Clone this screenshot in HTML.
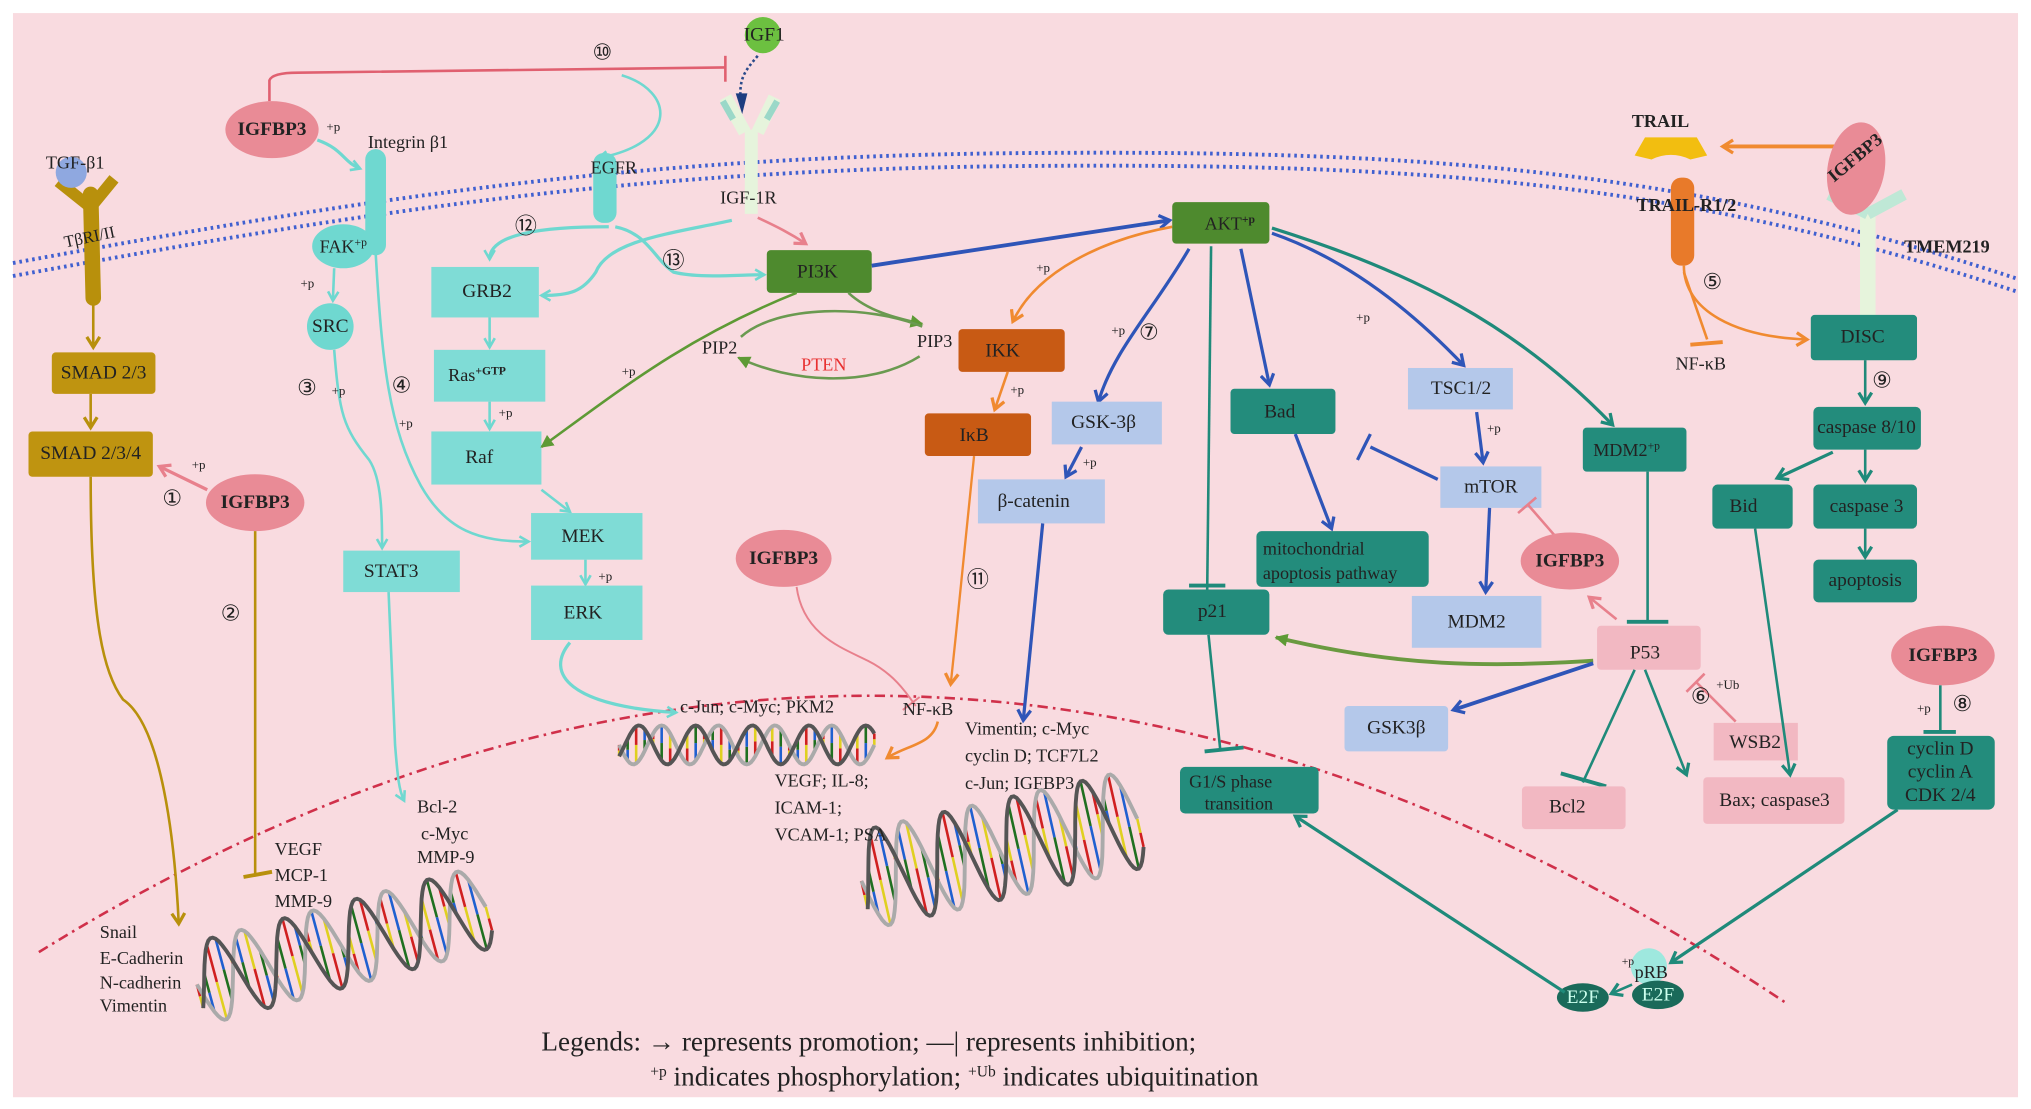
<!DOCTYPE html>
<html><head><meta charset="utf-8"><style>
html,body{margin:0;padding:0;background:#fff}
svg{display:block}
text{font-family:"Liberation Serif",serif;fill:#222}
.b{font-size:15px;text-anchor:middle;dominant-baseline:central}
</style></head><body>
<svg id="s" width="2031" height="1109" viewBox="0 0 1568 856" xmlns="http://www.w3.org/2000/svg">
<defs>
<marker id="aC" markerWidth="10" markerHeight="10" refX="8" refY="5" orient="auto" markerUnits="userSpaceOnUse"><path d="M1,1 L8,5 L1,9" fill="none" stroke="#6fd8d0" stroke-width="2"/></marker>
<marker id="aB" markerWidth="12" markerHeight="12" refX="9" refY="6" orient="auto" markerUnits="userSpaceOnUse"><path d="M1,1 L9,6 L1,11" fill="none" stroke="#2f55b8" stroke-width="2.5"/></marker>
<marker id="aT" markerWidth="12" markerHeight="12" refX="9" refY="6" orient="auto" markerUnits="userSpaceOnUse"><path d="M1,1 L9,6 L1,11" fill="none" stroke="#1f8a7a" stroke-width="2.5"/></marker>
<marker id="aG" markerWidth="12" markerHeight="12" refX="9" refY="6" orient="auto" markerUnits="userSpaceOnUse"><path d="M0,1 L10,6 L0,11 Z" fill="#5e9a35"/></marker>
<marker id="aO" markerWidth="12" markerHeight="12" refX="9" refY="6" orient="auto" markerUnits="userSpaceOnUse"><path d="M1,1 L9,6 L1,11" fill="none" stroke="#f08a30" stroke-width="2.5"/></marker>
<marker id="aP" markerWidth="12" markerHeight="12" refX="9" refY="6" orient="auto" markerUnits="userSpaceOnUse"><path d="M1,1 L9,6 L1,11" fill="none" stroke="#e8808c" stroke-width="2.5"/></marker>
<marker id="aY" markerWidth="12" markerHeight="12" refX="9" refY="6" orient="auto" markerUnits="userSpaceOnUse"><path d="M1,1 L9,6 L1,11" fill="none" stroke="#b8900c" stroke-width="2.5"/></marker>
</defs>
<rect x="10" y="10" width="1548" height="837" fill="#f9dbe0"/>
<!-- membrane -->
<g fill="none" stroke="#4060d0" stroke-width="3" stroke-dasharray="2 3">
<path d="M10,203 C300,150 500,120 800,118 C1100,116 1300,130 1557,215"/>
<path d="M10,213 C300,160 500,130 800,128 C1100,126 1300,140 1557,225"/>
</g>
<!-- nucleus -->
<path d="M30,735 Q700,320 1380,775" fill="none" stroke="#d0304a" stroke-width="2" stroke-dasharray="8 4 2 4"/>
<g id="dna"></g>

<!-- left TGF -->
<path d="M70,150 L72,230" stroke="#b8900c" stroke-width="12" stroke-linecap="round"/>
<path d="M70,160 L45,140 M70,160 L88,138" stroke="#b8900c" stroke-width="9"/>
<circle cx="55" cy="133" r="12" fill="#8fa8e0"/>
<text x="58" y="130" font-size="14" text-anchor="middle">TGF-β1</text>
<text x="70" y="187" font-size="13" text-anchor="middle" transform="rotate(-12 70 187)">TβRI/II</text>
<line x1="72" y1="232" x2="72" y2="268" stroke="#b8900c" stroke-width="2" marker-end="url(#aY)"/>
<rect x="40" y="272" width="80" height="32" rx="3" fill="#bf9410"/><text class="b" x="80" y="288">SMAD 2/3</text>
<line x1="70" y1="304" x2="70" y2="330" stroke="#b8900c" stroke-width="2" marker-end="url(#aY)"/>
<rect x="22" y="333" width="96" height="35" rx="3" fill="#bf9410"/><text class="b" x="70" y="350">SMAD 2/3/4</text>
<path d="M70,368 C70,480 80,520 95,540 C125,560 135,650 138,713" fill="none" stroke="#b8900c" stroke-width="2" marker-end="url(#aY)"/>
<line x1="160" y1="378" x2="123" y2="360" stroke="#e8808c" stroke-width="2.5" marker-end="url(#aP)"/>
<text x="148" y="362" font-size="10">+p</text>
<text x="133" y="390" font-size="17" text-anchor="middle">①</text>
<ellipse cx="197" cy="388" rx="38" ry="22" fill="#e98b96"/><text class="b" x="197" y="388" font-weight="bold">IGFBP3</text>
<path d="M197,410 L197,675" stroke="#b8900c" stroke-width="2"/><path d="M188,677 L210,673" stroke="#b8900c" stroke-width="3"/>
<text x="178" y="479" font-size="17" text-anchor="middle">②</text>
<g font-size="14"><text x="77" y="724">Snail</text><text x="77" y="744">E-Cadherin</text><text x="77" y="763">N-cadherin</text><text x="77" y="781">Vimentin</text>
<text x="212" y="660">VEGF</text><text x="212" y="680">MCP-1</text><text x="212" y="700">MMP-9</text>
<text x="322" y="627">Bcl-2</text><text x="325" y="648">c-Myc</text><text x="322" y="666">MMP-9</text></g>

<!-- IGFBP3 top & integrin -->
<path d="M208,78 L208,62 Q210,56 230,56 L560,52" fill="none" stroke="#e06070" stroke-width="2"/>
<path d="M560,43 L560,63" stroke="#e06070" stroke-width="2"/>
<text x="465" y="46" font-size="17" text-anchor="middle">⑩</text>
<ellipse cx="210" cy="100" rx="36" ry="22" fill="#e98b96"/><text class="b" x="210" y="100" font-weight="bold">IGFBP3</text>
<text x="252" y="101" font-size="10">+p</text>
<path d="M245,108 C265,115 265,125 278,130" fill="none" stroke="#6fd8d0" stroke-width="2.5" marker-end="url(#aC)"/>
<rect x="282" y="115" width="16" height="82" rx="8" fill="#6fd8d0"/>
<text x="284" y="114" font-size="14">Integrin β1</text>
<ellipse cx="265" cy="190" rx="24" ry="17" fill="#6fd8d0"/><text x="265" y="195" font-size="14" text-anchor="middle">FAK<tspan font-size="9" dy="-5">+p</tspan></text>
<line x1="258" y1="207" x2="257" y2="232" stroke="#6fd8d0" stroke-width="2" marker-end="url(#aC)"/>
<text x="232" y="222" font-size="10">+p</text>
<circle cx="255" cy="252" r="18" fill="#6fd8d0"/><text class="b" x="255" y="252">SRC</text>
<path d="M258,270 C262,320 265,330 285,355 C295,370 295,400 295,423" fill="none" stroke="#6fd8d0" stroke-width="2" marker-end="url(#aC)"/>
<path d="M290,195 C295,280 300,330 325,375 C345,410 370,418 408,418" fill="none" stroke="#6fd8d0" stroke-width="2" marker-end="url(#aC)"/>
<text x="237" y="305" font-size="17" text-anchor="middle">③</text><text x="256" y="305" font-size="10">+p</text>
<text x="310" y="303" font-size="17" text-anchor="middle">④</text><text x="308" y="330" font-size="10">+p</text>
<rect x="265" y="425" width="90" height="32" fill="#7fdcd6"/><text class="b" x="302" y="441">STAT3</text>
<path d="M300,457 L305,575 C307,600 308,610 312,618" fill="none" stroke="#6fd8d0" stroke-width="2" marker-end="url(#aC)"/>

<!-- EGFR / IGF -->
<path d="M480,58 C520,70 525,110 462,122" fill="none" stroke="#6fd8d0" stroke-width="2" marker-end="url(#aC)"/>
<rect x="458" y="118" width="18" height="54" rx="8" fill="#6fd8d0"/>
<text x="456" y="134" font-size="14">EGFR</text>
<circle cx="589" cy="27" r="14" fill="#6cc040"/><text class="b" x="590" y="27" font-size="14">IGF1</text>
<path d="M585,43 C575,55 570,60 572,80" fill="none" stroke="#2a4a8a" stroke-width="2" stroke-dasharray="2 2"/>
<path d="M568,72 L573,88 L577,72 Z" fill="#1d3d80"/>
<path d="M575,100 L575,165 L585,165 L585,100 Z" fill="#e6f4dc"/>
<path d="M575,102 L560,75 M585,102 L598,75" stroke="#e6f4dc" stroke-width="10"/>
<path d="M558,78 L566,92 M600,78 L592,92" stroke="#9ad8c8" stroke-width="5"/>
<text x="556" y="157" font-size="14">IGF-1R</text>
<path d="M470,175 C420,175 378,180 378,200" fill="none" stroke="#6fd8d0" stroke-width="2.5" marker-end="url(#aC)"/>
<path d="M565,170 C520,180 470,185 460,210 C450,225 440,228 418,228" fill="none" stroke="#6fd8d0" stroke-width="2.5" marker-end="url(#aC)"/>
<path d="M475,175 C500,180 505,200 520,210 C540,215 570,212 590,212" fill="none" stroke="#6fd8d0" stroke-width="2.5" marker-end="url(#aC)"/>
<path d="M585,168 C600,175 610,180 622,188" fill="none" stroke="#e8808c" stroke-width="2" marker-end="url(#aP)"/>
<text x="406" y="180" font-size="17" text-anchor="middle">⑫</text>
<text x="520" y="207" font-size="17" text-anchor="middle">⑬</text>
<rect x="333" y="206" width="83" height="39" fill="#7fdcd6"/><text class="b" x="376" y="225">GRB2</text>
<line x1="378" y1="245" x2="378" y2="268" stroke="#6fd8d0" stroke-width="2" marker-end="url(#aC)"/>
<rect x="335" y="270" width="86" height="40" fill="#7fdcd6"/><text x="346" y="294" font-size="14">Ras<tspan font-size="9" dy="-5" font-weight="bold">+GTP</tspan></text>
<line x1="378" y1="310" x2="378" y2="331" stroke="#6fd8d0" stroke-width="2" marker-end="url(#aC)"/>
<text x="385" y="322" font-size="10">+p</text>
<rect x="333" y="333" width="85" height="41" fill="#7fdcd6"/><text class="b" x="370" y="353">Raf</text>
<line x1="418" y1="378" x2="440" y2="395" stroke="#6fd8d0" stroke-width="2" marker-end="url(#aC)"/>
<rect x="410" y="396" width="86" height="36" fill="#7fdcd6"/><text class="b" x="450" y="414">MEK</text>
<line x1="452" y1="432" x2="452" y2="451" stroke="#6fd8d0" stroke-width="2" marker-end="url(#aC)"/>
<text x="462" y="448" font-size="10">+p</text>
<rect x="410" y="452" width="86" height="42" fill="#7fdcd6"/><text class="b" x="450" y="473">ERK</text>
<path d="M440,496 C420,520 440,545 522,550" fill="none" stroke="#6fd8d0" stroke-width="2.5" marker-end="url(#aC)"/>
<text x="525" y="550" font-size="14">c-Jun; c-Myc; PKM2</text>

<!-- PI3K / PTEN -->
<rect x="592" y="193" width="81" height="33" rx="3" fill="#4e8a2e"/><text class="b" x="631" y="210">PI3K</text>
<line x1="673" y1="205" x2="903" y2="170" stroke="#2f55b8" stroke-width="3" marker-end="url(#aB)"/>
<path d="M615,226 C530,260 480,300 418,345" fill="none" stroke="#5e9a35" stroke-width="2" marker-end="url(#aG)"/>
<text x="480" y="290" font-size="10">+p</text>
<path d="M655,226 C670,240 690,245 712,250" fill="none" stroke="#6a9a50" stroke-width="2" marker-end="url(#aG)"/>
<path d="M572,260 C600,235 670,235 712,252" fill="none" stroke="#6a9a50" stroke-width="2"/>
<path d="M710,275 C670,300 610,295 570,276" fill="none" stroke="#6a9a50" stroke-width="2" marker-end="url(#aG)"/>
<text x="542" y="273" font-size="14">PIP2</text><text x="708" y="268" font-size="14">PIP3</text>
<text x="636" y="286" font-size="14" text-anchor="middle" style="fill:#e83030">PTEN</text>
<path d="M905,175 C850,185 800,210 782,248" fill="none" stroke="#f08a30" stroke-width="2" marker-end="url(#aO)"/>
<text x="800" y="210" font-size="10">+p</text>
<rect x="740" y="254" width="82" height="33" rx="3" fill="#c85a14"/><text class="b" x="774" y="271">IKK</text>
<line x1="778" y1="287" x2="768" y2="316" stroke="#f08a30" stroke-width="2" marker-end="url(#aO)"/>
<text x="780" y="304" font-size="10">+p</text>
<rect x="714" y="319" width="82" height="33" rx="3" fill="#c85a14"/><text class="b" x="752" y="336">IκB</text>
<path d="M752,352 L738,490 L734,528" fill="none" stroke="#f08a30" stroke-width="1.8" marker-end="url(#aO)"/>
<text x="755" y="453" font-size="17" text-anchor="middle">⑪</text>
<ellipse cx="605" cy="431" rx="37" ry="22" fill="#e98b96"/><text class="b" x="605" y="431" font-weight="bold">IGFBP3</text>
<path d="M615,453 C620,490 650,500 670,510 C690,520 700,535 707,545" fill="none" stroke="#e8808c" stroke-width="1.5"/>
<path d="M697,548 L710,538" stroke="#e8808c" stroke-width="1.5"/>
<text x="697" y="552" font-size="14">NF-κB</text>
<path d="M724,557 C720,575 700,575 685,585" fill="none" stroke="#f08a30" stroke-width="2" marker-end="url(#aO)"/>
<g font-size="14"><text x="598" y="607">VEGF; IL-8;</text><text x="598" y="628">ICAM-1;</text><text x="598" y="649">VCAM-1; PSA</text>
<text x="745" y="567">Vimentin; c-Myc</text><text x="745" y="588">cyclin D; TCF7L2</text><text x="745" y="609">c-Jun; IGFBP3</text></g>

<!-- AKT -->
<rect x="905" y="156" width="75" height="32" rx="3" fill="#4e8a2e"/><text x="930" y="177" font-size="14">AKT<tspan font-size="9" dy="-5" font-weight="bold">+p</tspan></text>
<path d="M918,192 C890,240 860,270 848,310" fill="none" stroke="#2f55b8" stroke-width="2.5" marker-end="url(#aB)"/>
<text x="858" y="258" font-size="10">+p</text><text x="887" y="262" font-size="17" text-anchor="middle">⑦</text>
<rect x="812" y="310" width="85" height="33" fill="#b4c8ea"/><text class="b" x="852" y="326">GSK-3β</text>
<line x1="835" y1="345" x2="823" y2="368" stroke="#2f55b8" stroke-width="2.5" marker-end="url(#aB)"/>
<text x="836" y="360" font-size="10">+p</text>
<rect x="755" y="370" width="98" height="34" fill="#b4c8ea"/><text class="b" x="798" y="387">β-catenin</text>
<line x1="805" y1="404" x2="790" y2="556" stroke="#2f55b8" stroke-width="2.5" marker-end="url(#aB)"/>
<path d="M935,190 L932,455" stroke="#1f8a7a" stroke-width="2"/><path d="M918,452 L946,452" stroke="#1f8a7a" stroke-width="3"/>
<line x1="958" y1="192" x2="980" y2="297" stroke="#2f55b8" stroke-width="2.5" marker-end="url(#aB)"/>
<rect x="950" y="300" width="81" height="35" rx="3" fill="#238c7c"/><text class="b" x="988" y="318">Bad</text>
<line x1="1000" y1="335" x2="1028" y2="408" stroke="#2f55b8" stroke-width="2.5" marker-end="url(#aB)"/>
<rect x="970" y="410" width="133" height="43" rx="4" fill="#238c7c"/><text x="975" y="428" font-size="14">mitochondrial</text><text x="975" y="447" font-size="14">apoptosis pathway</text>
<path d="M982,180 C1040,200 1090,240 1130,282" fill="none" stroke="#2f55b8" stroke-width="2.5" marker-end="url(#aB)"/>
<text x="1047" y="248" font-size="10">+p</text>
<rect x="1087" y="284" width="81" height="32" fill="#b4c8ea"/><text class="b" x="1128" y="300">TSC1/2</text>
<line x1="1140" y1="318" x2="1145" y2="357" stroke="#2f55b8" stroke-width="2.5" marker-end="url(#aB)"/>
<text x="1148" y="334" font-size="10">+p</text>
<rect x="1112" y="360" width="78" height="32" fill="#b4c8ea"/><text class="b" x="1151" y="376">mTOR</text>
<path d="M1110,370 L1058,345" stroke="#2f55b8" stroke-width="2.5"/><path d="M1048,355 L1058,335" stroke="#2f55b8" stroke-width="2.5"/>
<line x1="1150" y1="392" x2="1147" y2="457" stroke="#2f55b8" stroke-width="2.5" marker-end="url(#aB)"/>
<rect x="1090" y="460" width="100" height="40" fill="#b4c8ea"/><text class="b" x="1140" y="480">MDM2</text>
<path d="M1200,413 L1180,390" stroke="#e8808c" stroke-width="2"/><path d="M1172,396 L1186,384" stroke="#e8808c" stroke-width="2"/>
<ellipse cx="1212" cy="433" rx="38" ry="22" fill="#e98b96"/><text class="b" x="1212" y="433" font-weight="bold">IGFBP3</text>
<path d="M982,176 C1090,210 1170,250 1245,328" fill="none" stroke="#1f8a7a" stroke-width="2.5" marker-end="url(#aT)"/>
<rect x="1222" y="330" width="80" height="34" rx="3" fill="#238c7c"/><text x="1230" y="352" font-size="14">MDM2<tspan font-size="9" dy="-5">+p</tspan></text>
<path d="M1272,364 L1272,480" stroke="#1f8a7a" stroke-width="2"/><path d="M1256,480 L1288,480" stroke="#1f8a7a" stroke-width="3"/>
<rect x="898" y="455" width="82" height="35" rx="4" fill="#238c7c"/><text class="b" x="936" y="472">p21</text>
<path d="M933,490 L942,578" stroke="#1f8a7a" stroke-width="2"/><path d="M930,580 L960,577" stroke="#1f8a7a" stroke-width="3"/>
<rect x="911" y="592" width="107" height="36" rx="4" fill="#238c7c"/><text x="918" y="608" font-size="14">G1/S phase</text><text x="930" y="625" font-size="14">transition</text>
<rect x="1233" y="483" width="80" height="34" rx="3" fill="#f2b8c2"/><text class="b" x="1270" y="504">P53</text>
<path d="M1248,478 L1227,461" stroke="#e8808c" stroke-width="2" marker-end="url(#aP)"/>
<path d="M1230,510 C1150,515 1080,515 985,492" fill="none" stroke="#6a9a40" stroke-width="3" marker-end="url(#aG)"/>
<line x1="1230" y1="512" x2="1122" y2="548" stroke="#2f55b8" stroke-width="3" marker-end="url(#aB)"/>
<rect x="1038" y="545" width="80" height="35" rx="3" fill="#b4c8ea"/><text class="b" x="1078" y="562">GSK3β</text>
<path d="M1262,517 L1222,604" stroke="#1f8a7a" stroke-width="2"/><path d="M1205,597 L1240,607" stroke="#1f8a7a" stroke-width="3"/>
<rect x="1175" y="607" width="80" height="33" rx="3" fill="#f2b8c2"/><text class="b" x="1210" y="623">Bcl2</text>
<path d="M1270,517 L1302,598" stroke="#1f8a7a" stroke-width="2" marker-end="url(#aT)"/>
<rect x="1315" y="600" width="109" height="36" rx="3" fill="#f2b8c2"/><text class="b" x="1370" y="618">Bax; caspase3</text>
<rect x="1323" y="558" width="65" height="29" fill="#f2b8c2"/><text class="b" x="1355" y="573">WSB2</text>
<path d="M1340,557 L1310,527" stroke="#e8808c" stroke-width="2"/><path d="M1302,534 L1316,520" stroke="#e8808c" stroke-width="2"/>
<text x="1313" y="543" font-size="17" text-anchor="middle">⑥</text><text x="1325" y="532" font-size="10">+Ub</text>

<!-- right TRAIL -->
<text x="1282" y="98" font-size="14" font-weight="bold" text-anchor="middle">TRAIL</text>
<path d="M1270,106 L1310,106 L1318,120 L1305,123 Q1290,116 1275,123 L1262,120 Z" fill="#f2be10"/>
<path d="M1420,113 L1330,113" stroke="#f08a30" stroke-width="3" marker-end="url(#aO)"/>
<rect x="1290" y="137" width="18" height="68" rx="8" fill="#e87a2a"/>
<text x="1302" y="163" font-size="14" font-weight="bold" text-anchor="middle">TRAIL-R1/2</text>
<path d="M1300,205 C1300,240 1340,260 1395,262" fill="none" stroke="#f08a30" stroke-width="2" marker-end="url(#aO)"/>
<path d="M1300,210 L1318,262" stroke="#f08a30" stroke-width="2"/><path d="M1305,266 L1330,264" stroke="#f08a30" stroke-width="3"/>
<text x="1322" y="223" font-size="17" text-anchor="middle">⑤</text>
<text x="1313" y="285" font-size="14" text-anchor="middle">NF-κB</text>
<rect x="1436" y="160" width="12" height="85" fill="#e6f4dc"/>
<path d="M1442,165 L1412,150 M1442,165 L1470,150" stroke="#bfe8d6" stroke-width="9"/>
<ellipse cx="1433" cy="130" rx="22" ry="36" fill="#e98b96" transform="rotate(10 1433 130)"/>
<text x="1435" y="125" font-size="14" font-weight="bold" text-anchor="middle" transform="rotate(-40 1435 125)">IGFBP3</text>
<text x="1470" y="195" font-size="14" font-weight="bold">TMEM219</text>
<rect x="1398" y="243" width="82" height="35" rx="3" fill="#238c7c"/><text class="b" x="1438" y="260">DISC</text>
<line x1="1440" y1="278" x2="1440" y2="311" stroke="#1f8a7a" stroke-width="2" marker-end="url(#aT)"/>
<text x="1453" y="299" font-size="17" text-anchor="middle">⑨</text>
<rect x="1400" y="314" width="83" height="33" rx="4" fill="#238c7c"/><text class="b" x="1441" y="330" font-size="14">caspase 8/10</text>
<line x1="1415" y1="349" x2="1372" y2="369" stroke="#1f8a7a" stroke-width="2.5" marker-end="url(#aT)"/>
<line x1="1440" y1="347" x2="1440" y2="371" stroke="#1f8a7a" stroke-width="2" marker-end="url(#aT)"/>
<rect x="1322" y="374" width="62" height="34" rx="4" fill="#238c7c"/><text class="b" x="1346" y="391">Bid</text>
<rect x="1400" y="374" width="80" height="34" rx="4" fill="#238c7c"/><text class="b" x="1441" y="391">caspase 3</text>
<line x1="1440" y1="408" x2="1440" y2="430" stroke="#1f8a7a" stroke-width="2" marker-end="url(#aT)"/>
<rect x="1400" y="432" width="80" height="33" rx="4" fill="#238c7c"/><text class="b" x="1440" y="448">apoptosis</text>
<line x1="1355" y1="408" x2="1382" y2="598" stroke="#1f8a7a" stroke-width="2" marker-end="url(#aT)"/>
<ellipse cx="1500" cy="506" rx="40" ry="23" fill="#e98b96"/><text class="b" x="1500" y="506" font-weight="bold">IGFBP3</text>
<path d="M1498,529 L1498,565" stroke="#1f8a7a" stroke-width="2"/><path d="M1485,565 L1510,565" stroke="#1f8a7a" stroke-width="3"/>
<text x="1480" y="550" font-size="10">+p</text><text x="1515" y="549" font-size="17" text-anchor="middle">⑧</text>
<rect x="1457" y="568" width="83" height="57" rx="5" fill="#238c7c"/>
<text class="b" x="1498" y="578" font-size="14">cyclin D</text><text class="b" x="1498" y="596" font-size="14">cyclin A</text><text class="b" x="1498" y="614" font-size="14">CDK 2/4</text>
<line x1="1465" y1="625" x2="1290" y2="743" stroke="#1f8a7a" stroke-width="2.5" marker-end="url(#aT)"/>
<circle cx="1273" cy="746" r="14" fill="#9ee8de"/>
<text x="1262" y="755" font-size="14">pRB</text><text x="1252" y="745" font-size="9">+p</text>
<ellipse cx="1222" cy="770" rx="20" ry="11" fill="#1a6a5a"/><text class="b" x="1222" y="770" font-size="13" style="fill:#cfe">E2F</text>
<ellipse cx="1280" cy="768" rx="20" ry="11" fill="#1a6a5a"/><text class="b" x="1280" y="768" font-size="13" style="fill:#cfe">E2F</text>
<line x1="1260" y1="760" x2="1244" y2="767" stroke="#1f8a7a" stroke-width="2" marker-end="url(#aT)"/>
<line x1="1208" y1="766" x2="1000" y2="630" stroke="#1f8a7a" stroke-width="2.5" marker-end="url(#aT)"/>

<!-- legend -->
<text x="418" y="811" font-size="21">Legends: → represents promotion;  —| represents inhibition;</text>
<text x="502" y="838" font-size="21"><tspan font-size="12" dy="-7">+p</tspan><tspan dy="7"> indicates phosphorylation; </tspan><tspan font-size="12" dy="-7">+Ub</tspan><tspan dy="7"> indicates ubiquitination</tspan></text>
</svg>
<script>
(function(){
var g=document.getElementById('dna'),ns='http://www.w3.org/2000/svg';
var cols=['#d02020','#2060d0','#e0d020','#207020'];
function dna(x1,y1,x2,y2,amp,per){
 var dx=x2-x1,dy=y2-y1,L=Math.sqrt(dx*dx+dy*dy),ux=dx/L,uy=dy/L,nx=-uy,ny=ux,N=120;
 var a=[],b=[];
 for(var i=0;i<=N;i++){var t=i/N,s=Math.sin(t*per*2*Math.PI),c=Math.sin(t*per*2*Math.PI+Math.PI*0.8);
  var px=x1+dx*t,py=y1+dy*t;a.push([px+nx*amp*s,py+ny*amp*s]);b.push([px+nx*amp*c,py+ny*amp*c]);}
 for(var i=0;i<=N;i+=4){var l=document.createElementNS(ns,'line');
  var m=[(a[i][0]+b[i][0])/2,(a[i][1]+b[i][1])/2];
  l.setAttribute('x1',a[i][0]);l.setAttribute('y1',a[i][1]);l.setAttribute('x2',m[0]);l.setAttribute('y2',m[1]);
  l.setAttribute('stroke',cols[(i/4)%4]);l.setAttribute('stroke-width',2);g.appendChild(l);
  var l2=document.createElementNS(ns,'line');l2.setAttribute('x1',m[0]);l2.setAttribute('y1',m[1]);l2.setAttribute('x2',b[i][0]);l2.setAttribute('y2',b[i][1]);
  l2.setAttribute('stroke',cols[(i/4+2)%4]);l2.setAttribute('stroke-width',2);g.appendChild(l2);}
 [a,b].forEach(function(p,k){var e=document.createElementNS(ns,'polyline');
  e.setAttribute('points',p.map(function(q){return q[0].toFixed(1)+','+q[1].toFixed(1)}).join(' '));
  e.setAttribute('fill','none');e.setAttribute('stroke',k?'#555':'#aaa');e.setAttribute('stroke-width',3);g.appendChild(e);});
}
dna(152,760,375,700,32,4);
dna(478,575,675,575,15,4.5);
dna(665,680,878,632,38,4);
})();
</script>
</body></html>
